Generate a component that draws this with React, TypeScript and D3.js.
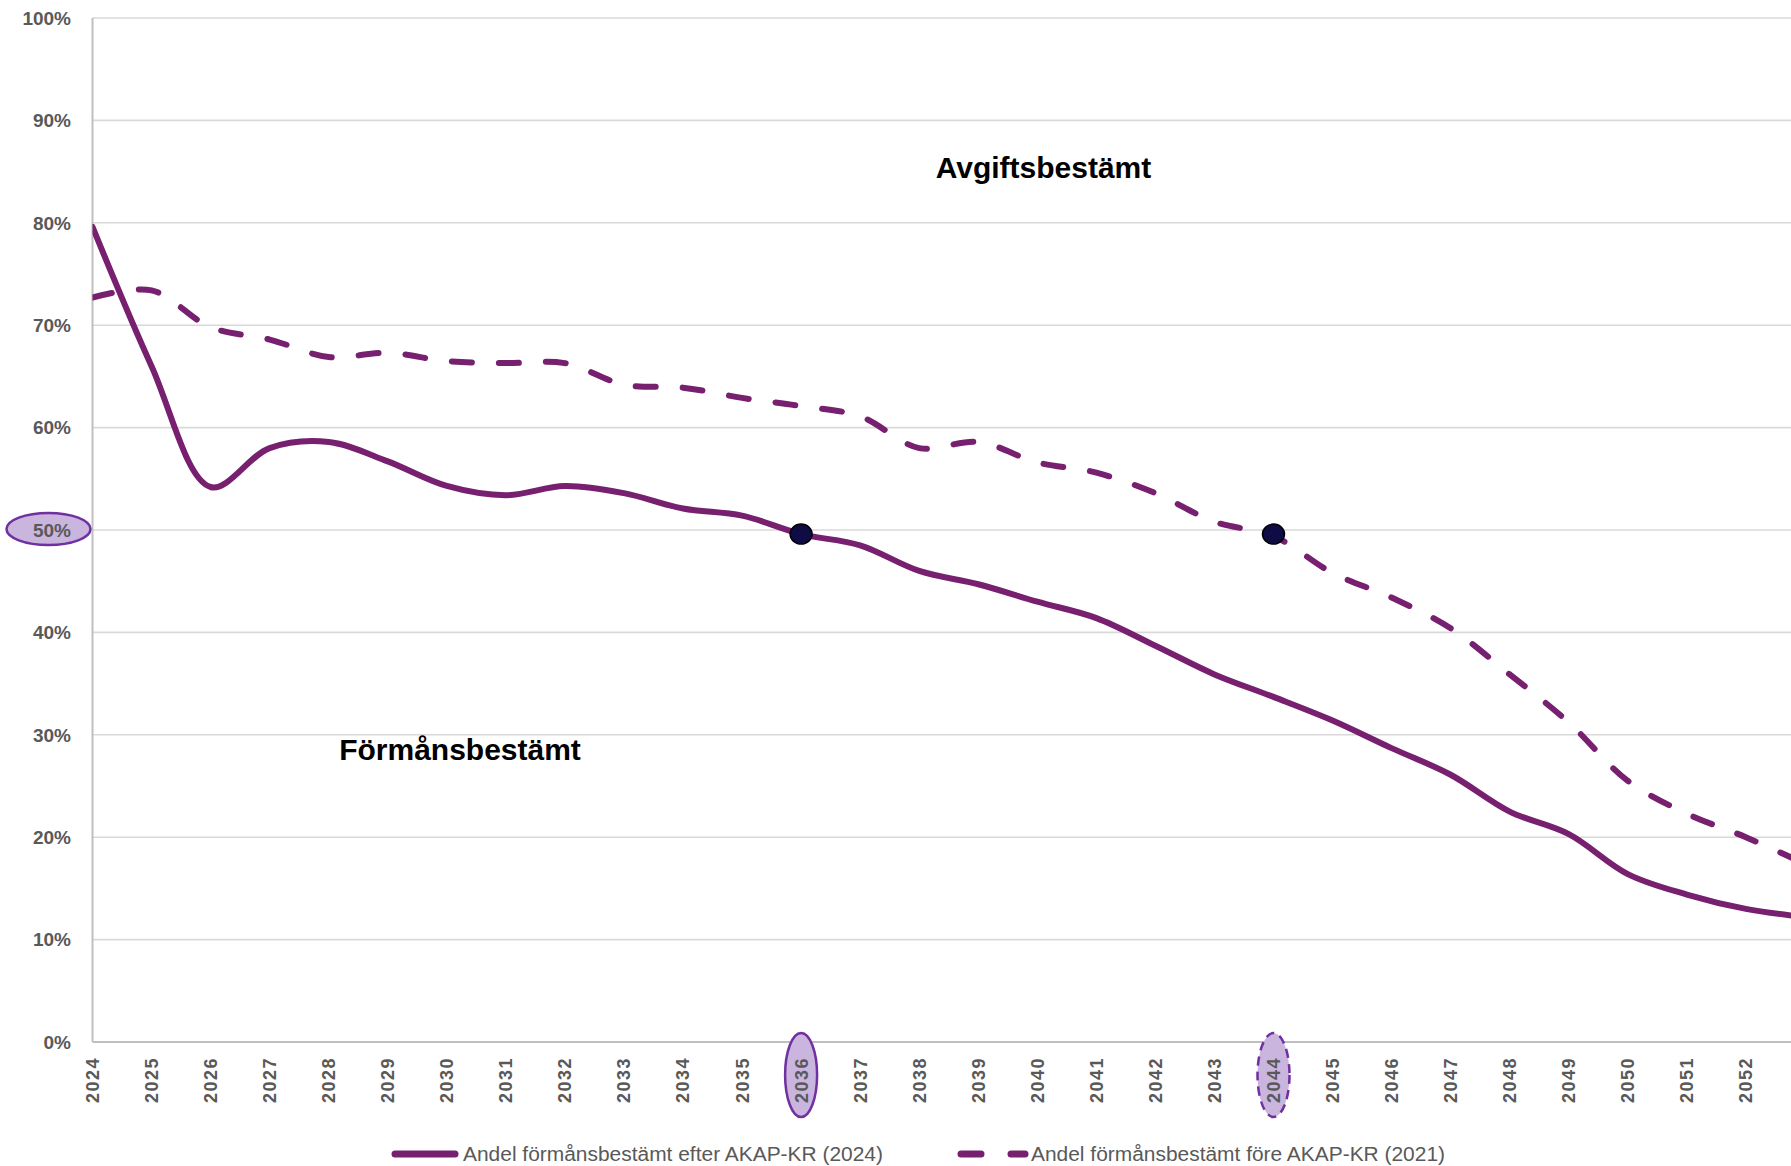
import React from "react";
import * as d3 from "d3";

const years: number[] = [2024, 2025, 2026, 2027, 2028, 2029, 2030, 2031, 2032, 2033, 2034, 2035, 2036, 2037, 2038, 2039, 2040, 2041, 2042, 2043, 2044, 2045, 2046, 2047, 2048, 2049, 2050, 2051, 2052, 2053];
const tickYears: number[] = years.slice(0, 29);
const afterAkap: number[] = [79.6, 66.0, 54.2, 58.0, 58.6, 56.7, 54.3, 53.4, 54.3, 53.6, 52.1, 51.4, 49.6, 48.5, 46.0, 44.7, 43.0, 41.4, 38.7, 35.9, 33.7, 31.4, 28.7, 26.1, 22.5, 20.3, 16.4, 14.4, 13.0, 12.2];
const beforeAkap: number[] = [72.7, 73.4, 69.8, 68.6, 66.9, 67.3, 66.5, 66.3, 66.3, 64.2, 63.9, 62.9, 62.1, 61.1, 58.0, 58.6, 56.6, 55.6, 53.6, 50.8, 49.4, 45.8, 43.4, 40.4, 35.9, 31.2, 25.5, 22.3, 20.0, 17.4];
const yTicks: number[] = [0, 10, 20, 30, 40, 50, 60, 70, 80, 90, 100];
const seriesNames: string[] = ["Andel förmånsbestämt efter AKAP-KR (2024)", "Andel förmånsbestämt före AKAP-KR (2021)"];
const markers: { year: number; value: number; dashed: boolean }[] = [
  { year: 2036, value: 49.6, dashed: false },
  { year: 2044, value: 49.6, dashed: true },
];
const highlightTick = 50;
const areaLabels = ["Avgiftsbestämt", "Förmånsbestämt"];

const W = 1791;
const H = 1166;
const LINE = "#77206F";
const GRAY = "#595959";

export default function App() {
  const x = d3.scaleLinear().domain([2024, 2053]).range([92.5, 92.5 + 29 * 59.05]);
  const y = d3.scaleLinear().domain([0, 100]).range([1042, 18]);
  const line = d3
    .line<number>()
    .x((_, i) => x(years[i]))
    .y((d) => y(d))
    .curve(d3.curveCatmullRom.alpha(0.5));

  const font = "'Liberation Sans', Arial, sans-serif";

  return (
    <svg width={W} height={H} style={{ position: "absolute", left: 0, top: 0, background: "#fff" }} fontFamily={font}>
      <rect x={0} y={0} width={W} height={H} fill="#fff" />
      {/* gridlines */}
      {yTicks.slice(1).map((t) => (
        <line key={t} x1={x(2024)} x2={W} y1={y(t)} y2={y(t)} stroke="#d9d9d9" strokeWidth={1.6} />
      ))}
      {/* axes */}
      <line x1={x(2024)} x2={x(2024)} y1={y(100)} y2={y(0)} stroke="#bfbfbf" strokeWidth={2} />
      <line x1={x(2024)} x2={W} y1={y(0)} y2={y(0)} stroke="#bfbfbf" strokeWidth={2} />

      {/* y tick labels */}
      {yTicks.map((t) => (
        <g key={t}>
          {t === highlightTick && (
            <ellipse cx={48.5} cy={y(t) - 1} rx={42} ry={16} fill="#c9b5dd" stroke="#7030a0" strokeWidth={2.5} />
          )}
          <text
            x={71}
            y={y(t)}
            dy="0.36em"
            textAnchor="end"
            fontSize={19}
            fontWeight="bold"
            fill={GRAY}
          >
            {t}%
          </text>
        </g>
      ))}

      {/* x tick highlight ellipses */}
      {markers.map((m) => (
        <ellipse
          key={"e" + m.year}
          cx={x(m.year)}
          cy={1075}
          rx={16}
          ry={42}
          fill="#c9b5dd"
          stroke="#7030a0"
          strokeWidth={2.5}
          strokeDasharray={m.dashed ? "9 6" : undefined}
        />
      ))}

      {/* x tick labels */}
      {tickYears.map((yr) => (
        <text
          key={yr}
          transform={`translate(${x(yr)},1057) rotate(-90)`}
          dy="0.36em"
          textAnchor="end"
          fontSize={18}
          fontWeight="bold"
          letterSpacing={1.5}
          fill={GRAY}
        >
          {yr}
        </text>
      ))}

      {/* series lines */}
      <g clipPath="url(#plotclip)">
        <path d={line(beforeAkap) || ""} fill="none" stroke={LINE} strokeWidth={6} strokeDasharray="20 27" strokeLinecap="round" />
        <path d={line(afterAkap) || ""} fill="none" stroke={LINE} strokeWidth={6} strokeLinecap="round" />
      </g>
      <defs>
        <clipPath id="plotclip">
          <rect x={x(2024)} y={0} width={W} height={y(0)} />
        </clipPath>
      </defs>

      {/* markers */}
      {markers.map((m) => (
        <ellipse key={"m" + m.year} cx={x(m.year)} cy={y(m.value)} rx={11} ry={10} fill="#0e0b45" stroke="#000" strokeWidth={1.5} />
      ))}

      {/* area labels */}
      <text x={1043.5} y={178} textAnchor="middle" fontSize={30} fontWeight="bold" fill="#000">
        {areaLabels[0]}
      </text>
      <text x={460} y={760} textAnchor="middle" fontSize={30} fontWeight="bold" fill="#000">
        {areaLabels[1]}
      </text>

      {/* legend */}
      <line x1={395} x2={455} y1={1154} y2={1154} stroke={LINE} strokeWidth={7} strokeLinecap="round" />
      <text x={463} y={1154} dy="0.35em" fontSize={20} fill={GRAY} textLength={420} lengthAdjust="spacingAndGlyphs">
        {seriesNames[0]}
      </text>
      <line x1={961} x2={981} y1={1154} y2={1154} stroke={LINE} strokeWidth={7} strokeLinecap="round" />
      <line x1={1011} x2={1025} y1={1154} y2={1154} stroke={LINE} strokeWidth={7} strokeLinecap="round" />
      <text x={1031} y={1154} dy="0.35em" fontSize={20} fill={GRAY} textLength={414} lengthAdjust="spacingAndGlyphs">
        {seriesNames[1]}
      </text>
    </svg>
  );
}
